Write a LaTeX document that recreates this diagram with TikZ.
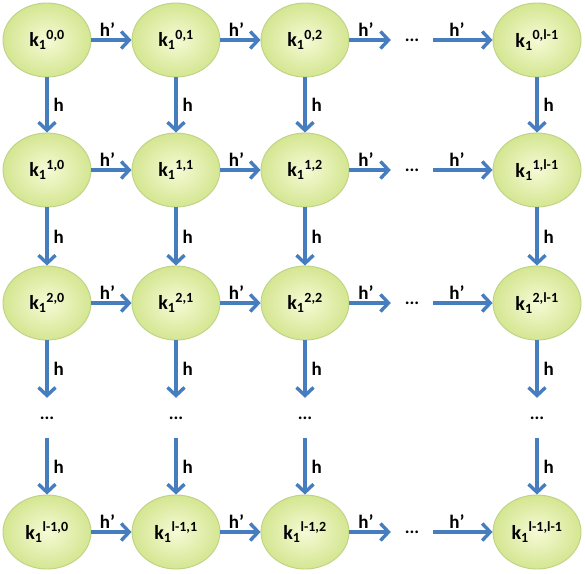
\documentclass[tikz,border=0pt]{standalone}
\usepackage{fontspec}
\setmainfont{Carlito}
\usepackage{tikz}
\usetikzlibrary{shapes.geometric,arrows.meta,positioning}
\definecolor{arrowblue}{RGB}{70,125,190}
\definecolor{ovalline}{RGB}{190,210,135}
\definecolor{ovalin}{RGB}{246,250,214}
\definecolor{ovalout}{RGB}{212,230,145}
\newcommand{\kk}[1]{k\textsubscript{1}\textsuperscript{#1}}

\begin{document}
\begin{tikzpicture}[x=1pt, y=-1pt, font=\bfseries]
        \tikzset{
            state/.style={ellipse, draw=ovalline, line width=0.9pt, inner color=ovalin, outer color=ovalout, minimum width=88pt, minimum height=74pt, inner sep=0pt, font=\fontsize{20}{24}\bfseries\selectfont},
            dots/.style={minimum width=42pt, minimum height=40pt, inner sep=0pt, font=\fontsize{18}{20}\bfseries\selectfont},
            lbl/.style={font=\fontsize{19}{22}\bfseries\selectfont, inner sep=2pt},
            vlbl/.style={lbl, right, inner sep=5pt},
            line/.style={draw=arrowblue, line width=3.4pt, -{Straight Barb[length=8pt,width=17pt]}}
        }
        \useasboundingbox (0,0) rectangle (585,573);

        % Row 0
        \node[state] (k00) at (47, 40) {\kk{0,0}};
        \node[state] (k01) at (176, 40) {\kk{0,1}};
        \node[state] (k02) at (305, 40) {\kk{0,2}};
        \node[dots] (h0) at (412, 40) {...};
        \node[state] (k0l) at (537, 40) {\kk{0,l-1}};

        % Row 1
        \node[state] (k10) at (47, 170) {\kk{1,0}};
        \node[state] (k11) at (176, 170) {\kk{1,1}};
        \node[state] (k12) at (305, 170) {\kk{1,2}};
        \node[dots] (h1) at (412, 170) {...};
        \node[state] (k1l) at (537, 170) {\kk{1,l-1}};

        % Row 2
        \node[state] (k20) at (47, 303) {\kk{2,0}};
        \node[state] (k21) at (176, 303) {\kk{2,1}};
        \node[state] (k22) at (305, 303) {\kk{2,2}};
        \node[dots] (h2) at (412, 303) {...};
        \node[state] (k2l) at (537, 303) {\kk{2,l-1}};

        % Dots between row 2 and the last row
        \node[dots] (v0) at (47, 418) {...};
        \node[dots] (v1) at (176, 418) {...};
        \node[dots] (v2) at (305, 418) {...};
        \node[dots] (vl) at (537, 418) {...};

        % Last row
        \node[state] (kl0) at (47, 532) {\kk{l-1,0}};
        \node[state] (kl1) at (176, 532) {\kk{l-1,1}};
        \node[state] (kl2) at (305, 532) {\kk{l-1,2}};
        \node[dots] (hl) at (412, 532) {...};
        \node[state] (kll) at (537, 532) {\kk{l-1,l-1}};

        % Horizontal connections (h')
        \path[line] (k00) -- node[above, lbl, pos=0.4] {h’} (k01);
        \path[line] (k01) -- node[above, lbl, pos=0.4] {h’} (k02);
        \path[line] (k02) -- node[above, lbl, pos=0.4] {h’} (h0);
        \path[line] (h0) -- node[above, lbl, pos=0.4] {h’} (k0l);
        \path[line] (k10) -- node[above, lbl, pos=0.4] {h’} (k11);
        \path[line] (k11) -- node[above, lbl, pos=0.4] {h’} (k12);
        \path[line] (k12) -- node[above, lbl, pos=0.4] {h’} (h1);
        \path[line] (h1) -- node[above, lbl, pos=0.4] {h’} (k1l);
        \path[line] (k20) -- node[above, lbl, pos=0.4] {h’} (k21);
        \path[line] (k21) -- node[above, lbl, pos=0.4] {h’} (k22);
        \path[line] (k22) -- node[above, lbl, pos=0.4] {h’} (h2);
        \path[line] (h2) -- node[above, lbl, pos=0.4] {h’} (k2l);
        \path[line] (kl0) -- node[above, lbl, pos=0.4] {h’} (kl1);
        \path[line] (kl1) -- node[above, lbl, pos=0.4] {h’} (kl2);
        \path[line] (kl2) -- node[above, lbl, pos=0.4] {h’} (hl);
        \path[line] (hl) -- node[above, lbl, pos=0.4] {h’} (kll);

        % Vertical connections (h)
        \path[line] (k00) -- node[vlbl] {h} (k10);
        \path[line] (k10) -- node[vlbl] {h} (k20);
        \path[line] (k20) -- node[vlbl] {h} (v0);
        \path[line] (v0) -- node[vlbl] {h} (kl0);
        \path[line] (k01) -- node[vlbl] {h} (k11);
        \path[line] (k11) -- node[vlbl] {h} (k21);
        \path[line] (k21) -- node[vlbl] {h} (v1);
        \path[line] (v1) -- node[vlbl] {h} (kl1);
        \path[line] (k02) -- node[vlbl] {h} (k12);
        \path[line] (k12) -- node[vlbl] {h} (k22);
        \path[line] (k22) -- node[vlbl] {h} (v2);
        \path[line] (v2) -- node[vlbl] {h} (kl2);
        \path[line] (k0l) -- node[vlbl] {h} (k1l);
        \path[line] (k1l) -- node[vlbl] {h} (k2l);
        \path[line] (k2l) -- node[vlbl] {h} (vl);
        \path[line] (vl) -- node[vlbl] {h} (kll);

    \end{tikzpicture}
\end{document}
